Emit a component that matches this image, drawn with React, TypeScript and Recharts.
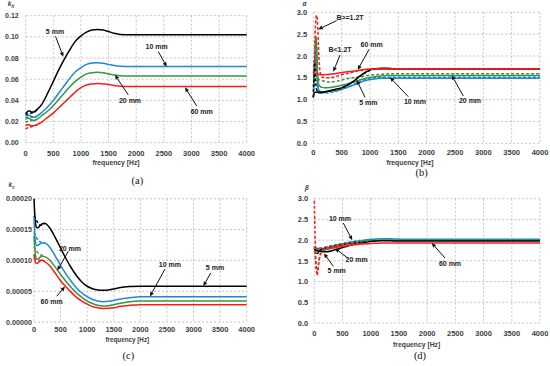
import React from 'react';
import { LineChart, Line, XAxis, YAxis, CartesianGrid, ReferenceLine, ReferenceDot } from 'recharts';

// ---------- shared ----------
const X_TICKS = [0, 500, 1000, 1500, 2000, 2500, 3000, 3500, 4000];
const BLACK = '#000000';
const BLUE = '#1b8ad3';
const GREEN = '#3d9140';
const RED = '#ff1a1a';

// ---------- panel (a): k_h ----------
const FREQ_A = [0, 25, 50, 75, 100, 150, 200, 300, 400, 500, 600, 700, 800, 900, 1000, 1100, 1200, 1300, 1400, 1500, 1600, 1800, 2000, 2500, 3000, 3500, 4000];
const A_5MM = [0.027, 0.029, 0.030, 0.030, 0.029, 0.029, 0.031, 0.037, 0.047, 0.058, 0.069, 0.079, 0.088, 0.096, 0.101, 0.1045, 0.1065, 0.107, 0.1065, 0.105, 0.1035, 0.102, 0.102, 0.102, 0.102, 0.102, 0.102];
const A_10MM = [0.025, 0.026, 0.026, 0.0255, 0.025, 0.024, 0.025, 0.029, 0.034, 0.040, 0.047, 0.054, 0.061, 0.067, 0.071, 0.074, 0.0753, 0.0755, 0.075, 0.074, 0.073, 0.072, 0.072, 0.072, 0.072, 0.072, 0.072];
const A_20MM = [0.022, 0.023, 0.023, 0.0225, 0.022, 0.021, 0.022, 0.026, 0.030, 0.035, 0.041, 0.047, 0.053, 0.058, 0.062, 0.065, 0.0662, 0.0665, 0.066, 0.065, 0.064, 0.063, 0.063, 0.063, 0.063, 0.063, 0.063];
const A_60MM = [0.016, 0.017, 0.017, 0.0165, 0.016, 0.016, 0.017, 0.020, 0.024, 0.028, 0.033, 0.038, 0.043, 0.048, 0.052, 0.0545, 0.0555, 0.056, 0.0555, 0.055, 0.054, 0.053, 0.053, 0.053, 0.053, 0.053, 0.053];
const FREQ_A_LOW = [0, 25, 50, 100, 150, 200];
const A_5MM_HI = [0.026, 0.027, 0.027, 0.028, 0.029, 0.031];
const A_10MM_HI = [0.023, 0.024, 0.024, 0.024, 0.024, 0.025];
const A_20MM_HI = [0.019, 0.020, 0.020, 0.021, 0.021, 0.022];
const A_60MM_HI = [0.013, 0.014, 0.014, 0.015, 0.016, 0.017];
const A_Y_TICKS = [0, 0.02, 0.04, 0.06, 0.08, 0.1, 0.12];
// annotations: label, label x, label y, arrow tail x, y, arrow tip x, y
const A_NOTES: [string, number, number, number, number, number, number][] = [
  ['5 mm', 530, 0.1055, 540, 0.1005, 680, 0.0813],
  ['10 mm', 2371, 0.0907, 2400, 0.086, 2552, 0.0718],
  ['20 mm', 1888, 0.0403, 1857, 0.0451, 1616, 0.064],
  ['60 mm', 3186, 0.0293, 3095, 0.0347, 2883, 0.0523],
];

// ---------- panel (b): alpha ----------
const FREQ_B = [0, 10, 20, 30, 40, 50, 60, 70, 80, 90, 100, 125, 150, 200, 300, 400, 500, 600, 700, 800, 900, 1000, 1100, 1200, 1300, 1400, 1500, 1600, 1800, 2000, 2500, 3000, 3500, 4000];
const B_60MM = [1.60, 1.60, 1.60, 1.60, 1.60, 1.59, 1.59, 1.59, 1.58, 1.58, 1.58, 1.57, 1.57, 1.57, 1.58, 1.60, 1.62, 1.64, 1.65, 1.67, 1.69, 1.70, 1.70, 1.70, 1.70, 1.70, 1.70, 1.70, 1.70, 1.70, 1.70, 1.70, 1.70, 1.70];
const B_60MM_HI = [1.60, 1.70, 2.00, 2.40, 2.75, 2.90, 2.93, 2.85, 2.60, 2.25, 1.95, 1.60, 1.52, 1.50, 1.50, 1.53, 1.57, 1.60, 1.63, 1.66, 1.68, 1.70, 1.70, 1.70, 1.70, 1.70, 1.70, 1.70, 1.70, 1.70, 1.70, 1.70, 1.70, 1.70];
const B_5MM = [1.05, 1.12, 1.16, 1.17, 1.17, 1.17, 1.17, 1.17, 1.17, 1.17, 1.17, 1.17, 1.17, 1.18, 1.21, 1.24, 1.27, 1.33, 1.41, 1.52, 1.61, 1.68, 1.71, 1.72, 1.72, 1.71, 1.70, 1.70, 1.70, 1.70, 1.70, 1.70, 1.70, 1.70];
const B_5MM_HI = [1.05, 1.50, 1.90, 1.70, 1.45, 1.30, 1.22, 1.19, 1.17, 1.16, 1.16, 1.16, 1.16, 1.17, 1.20, 1.23, 1.27, 1.33, 1.41, 1.51, 1.60, 1.67, 1.70, 1.71, 1.71, 1.70, 1.70, 1.70, 1.70, 1.70, 1.70, 1.70, 1.70, 1.70];
const B_20MM = [1.30, 1.40, 1.70, 2.10, 2.40, 2.45, 2.20, 1.80, 1.50, 1.38, 1.33, 1.30, 1.28, 1.27, 1.28, 1.30, 1.33, 1.36, 1.40, 1.44, 1.48, 1.51, 1.53, 1.54, 1.55, 1.55, 1.55, 1.55, 1.55, 1.55, 1.55, 1.55, 1.55, 1.55];
const B_20MM_HI = [1.30, 1.35, 1.50, 1.70, 1.85, 1.80, 1.65, 1.55, 1.50, 1.47, 1.46, 1.45, 1.44, 1.42, 1.40, 1.42, 1.45, 1.48, 1.50, 1.52, 1.54, 1.56, 1.57, 1.58, 1.59, 1.59, 1.59, 1.59, 1.59, 1.59, 1.59, 1.59, 1.59, 1.59];
const B_10MM = [1.20, 1.30, 1.55, 1.95, 2.25, 2.30, 2.00, 1.60, 1.35, 1.25, 1.21, 1.19, 1.18, 1.18, 1.19, 1.21, 1.24, 1.28, 1.33, 1.38, 1.43, 1.46, 1.48, 1.49, 1.49, 1.49, 1.49, 1.49, 1.49, 1.49, 1.49, 1.49, 1.49, 1.49];
const B_10MM_HI = [1.20, 1.25, 1.40, 1.70, 1.90, 1.85, 1.60, 1.40, 1.25, 1.18, 1.16, 1.15, 1.15, 1.15, 1.16, 1.19, 1.23, 1.28, 1.34, 1.40, 1.45, 1.48, 1.50, 1.51, 1.51, 1.51, 1.51, 1.51, 1.51, 1.51, 1.51, 1.51, 1.51, 1.51];
const B_Y_TICKS = [0, 0.5, 1, 1.5, 2, 2.5, 3];
const B_NOTES: [string, number, number, number, number, number, number][] = [
  ['B>=1.2T', 648, 2.885, 413, 2.81, 88, 2.61],
  ['B<1.2T', 471, 2.137, 471, 2.02, 353, 1.64],
  ['60 mm', 1030, 2.267, 983, 2.15, 783, 1.68],
  ['5 mm', 971, 0.93, 912, 1.053, 765, 1.45],
  ['10 mm', 1794, 0.953, 1676, 1.067, 1353, 1.51],
  ['20 mm', 2765, 0.99, 2647, 1.083, 2441, 1.56],
];

// ---------- panel (c): k_c ----------
const FREQ_C = [0, 25, 50, 75, 100, 150, 200, 300, 400, 500, 600, 700, 800, 900, 1000, 1100, 1200, 1300, 1400, 1500, 1600, 1800, 2000, 2500, 3000, 3500, 4000];
const C_5MM = [0.000200, 0.000162, 0.000153, 0.000153, 0.000155, 0.000159, 0.000160, 0.000152, 0.000137, 0.000120, 0.000103, 0.000088, 0.000075, 0.000065, 0.000058, 0.000054, 0.000052, 0.0000515, 0.000052, 0.0000535, 0.0000555, 0.0000575, 0.000058, 0.000058, 0.000058, 0.000058, 0.000058];
const C_10MM = [0.000170, 0.000132, 0.000124, 0.000124, 0.000126, 0.000128, 0.000128, 0.000121, 0.000107, 0.000092, 0.000078, 0.000066, 0.000055, 0.000047, 0.000041, 0.0000365, 0.000034, 0.000033, 0.0000335, 0.000035, 0.000037, 0.0000395, 0.000041, 0.000041, 0.000041, 0.000041, 0.000041];
const C_20MM = [0.000140, 0.000110, 0.000102, 0.000102, 0.000104, 0.000107, 0.000106, 0.000100, 0.000089, 0.000077, 0.000066, 0.000056, 0.000047, 0.000040, 0.000034, 0.000030, 0.000027, 0.000026, 0.0000265, 0.000028, 0.000030, 0.000033, 0.000034, 0.000034, 0.000034, 0.000034, 0.000034];
const C_60MM = [0.000110, 0.000097, 0.000095, 0.000096, 0.000098, 0.000100, 0.000098, 0.000091, 0.000079, 0.000067, 0.000057, 0.000048, 0.000040, 0.000034, 0.000029, 0.000025, 0.000023, 0.000022, 0.0000222, 0.000023, 0.000025, 0.000027, 0.0000278, 0.000028, 0.000028, 0.000028, 0.000028];
const FREQ_C_LOW = [0, 25, 50, 100, 150, 200];
const C_5MM_HI = [0.000172, 0.000168, 0.000164, 0.000158, 0.000157, 0.000160];
const C_10MM_HI = [0.000145, 0.000140, 0.000136, 0.000131, 0.000129, 0.000128];
const C_20MM_HI = [0.000122, 0.000118, 0.000115, 0.000110, 0.000108, 0.000106];
const C_60MM_HI = [0.000104, 0.000103, 0.000102, 0.000100, 0.000100, 0.000098];
const C_Y_TICKS = [0, 0.00005, 0.0001, 0.00015, 0.0002];
const C_NOTES: [string, number, number, number, number, number, number][] = [
  ['20 mm', 677, 0.00012, 645, 0.0001147, 438, 0.0000835],
  ['10 mm', 2557, 0.0000929, 2464, 0.000086, 2181, 0.0000415],
  ['5 mm', 3404, 0.0000876, 3323, 0.0000795, 3185, 0.0000582],
  ['60 mm', 332, 0.0000336, 426, 0.0000417, 583, 0.0000575],
];

// ---------- panel (d): beta ----------
const FREQ_D = [0, 10, 25, 50, 75, 100, 150, 200, 300, 400, 500, 600, 700, 800, 900, 1000, 1100, 1200, 1300, 1400, 1500, 1600, 1800, 2000, 2500, 3000, 3500, 4000];
const D_60MM = [1.85, 1.83, 1.82, 1.80, 1.80, 1.80, 1.80, 1.80, 1.81, 1.83, 1.85, 1.87, 1.89, 1.90, 1.91, 1.92, 1.925, 1.93, 1.93, 1.93, 1.93, 1.93, 1.93, 1.93, 1.93, 1.93, 1.93, 1.93];
const D_5MM = [1.80, 1.78, 1.76, 1.74, 1.73, 1.73, 1.72, 1.72, 1.74, 1.78, 1.82, 1.86, 1.90, 1.93, 1.95, 1.97, 1.98, 1.985, 1.985, 1.98, 1.98, 1.98, 1.98, 1.98, 1.98, 1.98, 1.98, 1.98];
const D_10MM = [1.80, 1.79, 1.78, 1.78, 1.78, 1.78, 1.78, 1.79, 1.82, 1.86, 1.90, 1.93, 1.96, 1.98, 2.00, 2.02, 2.03, 2.035, 2.035, 2.03, 2.025, 2.02, 2.02, 2.02, 2.02, 2.02, 2.02, 2.02];
const D_20MM = [1.78, 1.77, 1.76, 1.76, 1.75, 1.75, 1.75, 1.77, 1.80, 1.84, 1.88, 1.91, 1.94, 1.96, 1.98, 1.99, 2.00, 2.005, 2.005, 2.00, 2.00, 2.00, 2.00, 2.00, 2.00, 2.00, 2.00, 2.00];
const FREQ_D_LOW = [0, 10, 25, 50, 75, 100, 150, 200, 300, 400, 500, 600, 700, 800, 900, 1000];
const D_60MM_HI = [2.95, 2.30, 1.60, 1.15, 1.40, 1.60, 1.75, 1.80, 1.83, 1.86, 1.89, 1.91, 1.92, 1.92, 1.92, 1.92];
const D_20MM_HI = [1.85, 1.70, 1.45, 1.20, 1.45, 1.65, 1.76, 1.81, 1.85, 1.88, 1.91, 1.93, 1.95, 1.96, 1.98, 1.99];
const D_5MM_HI = [1.80, 1.77, 1.72, 1.68, 1.70, 1.74, 1.79, 1.82, 1.85, 1.88, 1.90, 1.92, 1.94, 1.95, 1.96, 1.97];
const D_10MM_HI = [1.82, 1.81, 1.80, 1.80, 1.80, 1.81, 1.82, 1.83, 1.86, 1.89, 1.92, 1.95, 1.97, 1.99, 2.00, 2.01];
const D_Y_TICKS = [0, 0.5, 1, 1.5, 2, 2.5, 3];
const D_NOTES: [string, number, number, number, number, number, number][] = [
  ['10 mm', 455, 2.534, 514, 2.413, 673, 2.0],
  ['20 mm', 751, 1.528, 592, 1.569, 367, 1.8],
  ['5 mm', 397, 1.272, 337, 1.368, 170, 1.68],
  ['60 mm', 2405, 1.448, 2316, 1.569, 2081, 1.93],
];

// ---------- helpers ----------
const FONT = "'Liberation Sans', Arial, sans-serif";
const zip = (fs: number[], vs: number[]) => fs.map((f, i) => ({ f, v: vs[i] }));

type Series = { data: { f: number; v: number }[]; color: string; dashed?: boolean };
type Note = [string, number, number, number, number, number, number];

const Arrow = (p: any) => {
  const { x1, y1, x2, y2 } = p;
  if ([x1, y1, x2, y2].some((v) => typeof v !== 'number' || isNaN(v))) return null;
  const a = Math.atan2(y2 - y1, x2 - x1);
  const L = 4.5;
  const W = 2;
  const bx = x2 - L * Math.cos(a);
  const by = y2 - L * Math.sin(a);
  const pts = `${x2},${y2} ${bx - W * Math.sin(a)},${by + W * Math.cos(a)} ${bx + W * Math.sin(a)},${by - W * Math.cos(a)}`;
  return (
    <g>
      <line x1={x1} y1={y1} x2={bx} y2={by} stroke="#111" strokeWidth={1} />
      <polygon points={pts} fill="#111" />
    </g>
  );
};

const makeLabel = (text: string) => (p: any) => (
  <text x={p.cx} y={p.cy} textAnchor="middle" dominantBaseline="central" fontSize={7} fontWeight={700} fontFamily={FONT} fill="#222">
    {text}
  </text>
);

type PanelProps = {
  left: number; top: number; width: number; height: number;
  margin: { top: number; right: number; bottom: number; left: number };
  yWidth: number; yTicks: number[]; yDigits: number; yTickMargin: number; yFont: number;
  xTickMargin: number; series: Series[]; notes: Note[];
};

const Panel = (pp: PanelProps) => (
  <div style={{ position: 'absolute', left: pp.left, top: pp.top }}>
    <LineChart width={pp.width} height={pp.height} margin={pp.margin}>
      <CartesianGrid stroke="#b5b5b5" strokeDasharray="2 2" strokeWidth={0.8} />
      <XAxis
        dataKey="f" type="number" domain={[0, 4000]} ticks={X_TICKS} axisLine={false} tickLine={false}
        tickSize={0} tickMargin={pp.xTickMargin} height={20} interval={0} allowDuplicatedCategory={false}
        tick={{ fontSize: 7.5, fontWeight: 700, fontFamily: FONT, fill: '#404040' }}
      />
      <YAxis
        type="number" domain={[pp.yTicks[0], pp.yTicks[pp.yTicks.length - 1]]} ticks={pp.yTicks}
        axisLine={false} tickLine={false} tickSize={0} tickMargin={pp.yTickMargin} width={pp.yWidth} interval={0}
        tickFormatter={(v: number) => v.toFixed(pp.yDigits)}
        tick={{ fontSize: pp.yFont, fontWeight: 700, fontFamily: FONT, fill: '#404040' }}
      />
      {pp.series.map((s, i) => (
        <Line
          key={i} data={s.data} dataKey="v" type="monotone" stroke={s.color} strokeWidth={1.5}
          strokeDasharray={s.dashed ? '3 2' : undefined} dot={false} isAnimationActive={false}
        />
      ))}
      {pp.notes.map((n, i) => (
        <ReferenceLine key={'a' + i} segment={[{ x: n[3], y: n[4] }, { x: n[5], y: n[6] }]} shape={Arrow} ifOverflow="visible" />
      ))}
      {pp.notes.map((n, i) => (
        <ReferenceDot key={'l' + i} x={n[1]} y={n[2]} r={1} shape={makeLabel(n[0])} ifOverflow="visible" />
      ))}
    </LineChart>
  </div>
);

const abs = (x: number, y: number, extra: React.CSSProperties = {}): React.CSSProperties => ({
  position: 'absolute', left: x, top: y, transform: 'translate(-50%, -50%)', whiteSpace: 'nowrap', lineHeight: 1, ...extra,
});
const axisTitleStyle: React.CSSProperties = { fontFamily: FONT, fontWeight: 700, fontSize: 6.8, color: '#404040' };
const captionStyle: React.CSSProperties = { fontFamily: "'Liberation Serif', 'Times New Roman', serif", fontSize: 10.5, color: '#111' };
const symStyle: React.CSSProperties = { fontFamily: FONT, fontStyle: 'italic', fontWeight: 700, fontSize: 6.5, color: '#404040' };

export default function App() {
  const seriesA: Series[] = [
    { data: zip(FREQ_A_LOW, A_5MM_HI), color: BLACK, dashed: true },
    { data: zip(FREQ_A_LOW, A_10MM_HI), color: BLUE, dashed: true },
    { data: zip(FREQ_A_LOW, A_20MM_HI), color: GREEN, dashed: true },
    { data: zip(FREQ_A_LOW, A_60MM_HI), color: RED, dashed: true },
    { data: zip(FREQ_A, A_5MM), color: BLACK },
    { data: zip(FREQ_A, A_10MM), color: BLUE },
    { data: zip(FREQ_A, A_20MM), color: GREEN },
    { data: zip(FREQ_A, A_60MM), color: RED },
  ];
  const seriesB: Series[] = [
    { data: zip(FREQ_B, B_10MM), color: BLUE },
    { data: zip(FREQ_B, B_10MM_HI), color: BLUE, dashed: true },
    { data: zip(FREQ_B, B_20MM), color: GREEN },
    { data: zip(FREQ_B, B_20MM_HI), color: GREEN, dashed: true },
    { data: zip(FREQ_B, B_5MM), color: BLACK },
    { data: zip(FREQ_B, B_5MM_HI), color: BLACK, dashed: true },
    { data: zip(FREQ_B, B_60MM), color: RED },
    { data: zip(FREQ_B, B_60MM_HI), color: RED, dashed: true },
  ];
  const seriesC: Series[] = [
    { data: zip(FREQ_C_LOW, C_5MM_HI), color: BLACK, dashed: true },
    { data: zip(FREQ_C_LOW, C_10MM_HI), color: BLUE, dashed: true },
    { data: zip(FREQ_C_LOW, C_20MM_HI), color: GREEN, dashed: true },
    { data: zip(FREQ_C_LOW, C_60MM_HI), color: RED, dashed: true },
    { data: zip(FREQ_C, C_5MM), color: BLACK },
    { data: zip(FREQ_C, C_10MM), color: BLUE },
    { data: zip(FREQ_C, C_20MM), color: GREEN },
    { data: zip(FREQ_C, C_60MM), color: RED },
  ];
  const seriesD: Series[] = [
    { data: zip(FREQ_D, D_10MM), color: BLUE },
    { data: zip(FREQ_D, D_20MM), color: GREEN },
    { data: zip(FREQ_D, D_5MM), color: BLACK },
    { data: zip(FREQ_D, D_60MM), color: RED },
    { data: zip(FREQ_D_LOW, D_10MM_HI), color: BLUE, dashed: true },
    { data: zip(FREQ_D_LOW, D_5MM_HI), color: BLACK, dashed: true },
    { data: zip(FREQ_D_LOW, D_20MM_HI), color: GREEN, dashed: true },
    { data: zip(FREQ_D_LOW, D_60MM_HI), color: RED, dashed: true },
  ];

  return (
    <div style={{ position: 'absolute', left: 0, top: 0, width: 550, height: 366, background: '#fff', overflow: 'hidden' }}>
      <Panel left={0} top={0} width={260} height={165} margin={{ top: 15.7, right: 13.3, bottom: 2.3, left: 1.7 }}
        yWidth={24} yTicks={A_Y_TICKS} yDigits={2} yTickMargin={7} yFont={7} xTickMargin={8} series={seriesA} notes={A_NOTES} />
      <Panel left={275} top={0} width={275} height={165} margin={{ top: 12.3, right: 10, bottom: 1.7, left: 8.3 }}
        yWidth={30} yTicks={B_Y_TICKS} yDigits={1} yTickMargin={6} yFont={7.5} xTickMargin={6} series={seriesB} notes={B_NOTES} />
      <Panel left={0} top={183} width={260} height={165} margin={{ top: 15.7, right: 13.3, bottom: 6, left: 2 }}
        yWidth={32} yTicks={C_Y_TICKS} yDigits={5} yTickMargin={2} yFont={7.2} xTickMargin={5} series={seriesC} notes={C_NOTES} />
      <Panel left={275} top={183} width={275} height={165} margin={{ top: 15.7, right: 10, bottom: 5, left: 7.3 }}
        yWidth={32} yTicks={D_Y_TICKS} yDigits={1} yTickMargin={6} yFont={7.5} xTickMargin={7.5} series={seriesD} notes={D_NOTES} />

      <div style={abs(116, 163.3, axisTitleStyle)}>frequency [Hz]</div>
      <div style={abs(410, 163.3, axisTitleStyle)}>frequency [Hz]</div>
      <div style={abs(127.3, 339.7, { ...axisTitleStyle, fontSize: 6.3 })}>frequency [Hz]</div>
      <div style={abs(416.7, 345.3, axisTitleStyle)}>frequency [Hz]</div>

      <div style={abs(11, 4.5, symStyle)}>k<sub style={{ fontSize: 4.5 }}>h</sub></div>
      <div style={abs(304.5, 4, symStyle)}>α</div>
      <div style={abs(11.7, 186, symStyle)}>k<sub style={{ fontSize: 4.5 }}>c</sub></div>
      <div style={abs(306.7, 188, symStyle)}>β</div>

      <div style={abs(137.3, 180.5, captionStyle)}>(a)</div>
      <div style={abs(421.7, 173.3, captionStyle)}>(b)</div>
      <div style={abs(128.3, 356.3, captionStyle)}>(c)</div>
      <div style={abs(420, 355.7, captionStyle)}>(d)</div>
    </div>
  );
}
